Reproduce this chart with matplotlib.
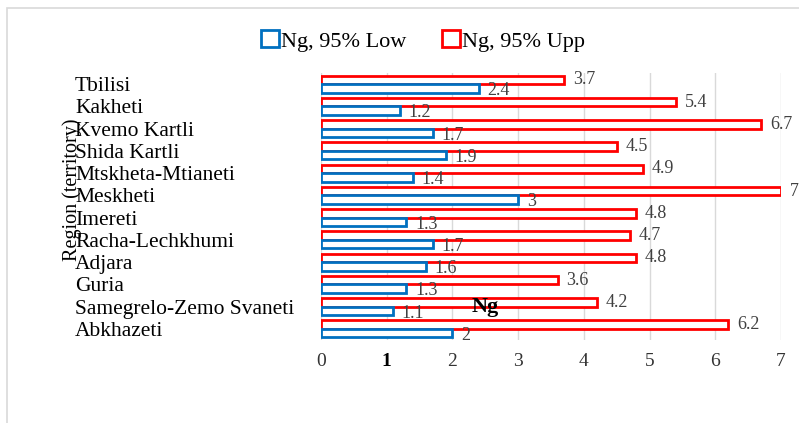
import matplotlib.pyplot as plt
import numpy as np
from matplotlib.patches import Rectangle

plt.rcParams['font.family'] = ['Liberation Serif', 'DejaVu Serif']

regions = ["Tbilisi", "Kakheti", "Kvemo Kartli", "Shida Kartli", "Mtskheta-Mtianeti",
           "Meskheti", "Imereti", "Racha-Lechkhumi", "Adjara", "Guria",
           "Samegrelo-Zemo Svaneti", "Abkhazeti"]
ng_low = [2.4, 1.2, 1.7, 1.9, 1.4, 3, 1.3, 1.7, 1.6, 1.3, 1.1, 2]
ng_upp = [3.7, 5.4, 6.7, 4.5, 4.9, 7, 4.8, 4.7, 4.8, 3.6, 4.2, 6.2]
low_lbl = ["2.4", "1.2", "1.7", "1.9", "1.4", "3", "1.3", "1.7", "1.6", "1.3", "1.1", "2"]
upp_lbl = ["3.7", "5.4", "6.7", "4.5", "4.9", "7", "4.8", "4.7", "4.8", "3.6", "4.2", "6.2"]

fig = plt.figure(figsize=(7.99, 4.23), dpi=100)
# outer frame of the chart area
fig.patches.append(Rectangle((7 / 799, -0.1), 1.2, 1 - 8 / 423 + 0.1, transform=fig.transFigure,
                             fill=False, edgecolor='#d9d9d9', linewidth=1.2))
ax = fig.add_axes([321 / 799, 1 - 340 / 423, 460 / 799, 267 / 423])

y = np.arange(len(regions))
h = 0.38
bu = ax.barh(y - h / 2, ng_upp, height=h, facecolor='white', edgecolor='#ff0000', linewidth=2,
             label='Ng, 95% Upp')
bl = ax.barh(y + h / 2, ng_low, height=h, facecolor='white', edgecolor='#0070c0', linewidth=2,
             label='Ng, 95% Low')

for yi, v, t in zip(y, ng_upp, upp_lbl):
    ax.text(v + 0.13, yi - h / 2, t, va='center', ha='left', fontsize=13, color='#404040')
for yi, v, t in zip(y, ng_low, low_lbl):
    ax.text(v + 0.13, yi + h / 2 + 0.1, t, va='center', ha='left', fontsize=13, color='#404040')

ax.set_ylim(len(regions) - 0.5, -0.5)
ax.set_xlim(0, 7)
ax.set_xticks(range(8))
ax.set_xticklabels([str(i) for i in range(8)], fontsize=14, color='#333333')
ax.get_xticklabels()[1].set_fontweight('bold')
ax.get_xticklabels()[1].set_color('black')
ax.set_yticks(y)
ax.set_yticklabels(regions, fontsize=15.5, ha='left')
ax.tick_params(axis='y', length=0, pad=(321 - 75) * 72 / 100)
ax.tick_params(axis='x', length=0, pad=9)
ax.grid(axis='x', color='#d9d9d9', linewidth=1)
ax.set_axisbelow(True)
for s in ax.spines.values():
    s.set_visible(False)

fig.text(72 / 799, 1 - 190 / 423, "Region (territory)", rotation=90, ha='center', va='center',
         fontsize=14.5)
fig.text(485 / 799, 1 - 307 / 423, "Ng", ha='center', va='center', fontsize=16, fontweight='bold')

fig.legend(handles=[bl, bu], loc='center', bbox_to_anchor=(423 / 799, 1 - 41 / 423), ncol=2,
           frameon=False, fontsize=16, handlelength=0.8, handleheight=0.8, handletextpad=0.1,
           columnspacing=1.6)

fig.savefig('out.png', dpi=100)
